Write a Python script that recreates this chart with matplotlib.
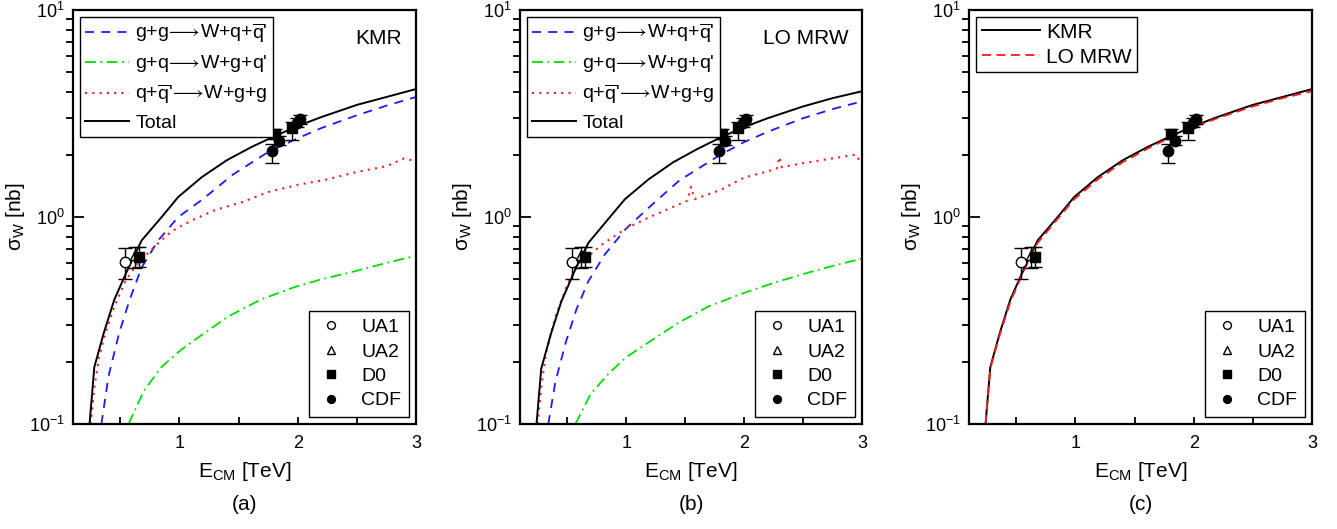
import matplotlib
matplotlib.use("Agg")
import matplotlib.pyplot as plt
from matplotlib.ticker import MultipleLocator, FuncFormatter, LogLocator
import numpy as np

plt.rcParams['font.family'] = ['Liberation Sans', 'DejaVu Sans']
plt.rcParams['mathtext.default'] = 'regular'

# --- model curves, panel (a) KMR ---
e_tot_a = [0.24, 0.28, 0.36, 0.45, 0.57, 0.68, 0.85, 0.99, 1.19, 1.40, 1.61, 1.80, 2.0, 2.2, 2.5, 2.75, 3.0]
s_tot_a = [0.10, 0.188, 0.275, 0.40, 0.57, 0.77, 1.0, 1.25, 1.56, 1.88, 2.18, 2.45, 2.75, 3.04, 3.48, 3.80, 4.15]
e_gg_a = [0.34, 0.40, 0.49, 0.58, 0.68, 0.82, 0.99, 1.19, 1.45, 1.75, 2.0, 2.2, 2.5, 2.75, 3.0]
s_gg_a = [0.10, 0.17, 0.275, 0.40, 0.57, 0.77, 1.0, 1.21, 1.60, 2.06, 2.40, 2.69, 3.10, 3.45, 3.80]
e_gq_a = [0.57, 0.70, 0.85, 1.0, 1.13, 1.41, 1.69, 1.98, 2.2, 2.5, 2.75, 3.0]
s_gq_a = [0.10, 0.145, 0.189, 0.225, 0.255, 0.33, 0.40, 0.46, 0.50, 0.55, 0.60, 0.65]
e_qq_a = [0.25, 0.28, 0.32, 0.37, 0.45, 0.55, 0.65, 0.79, 0.93, 1.1, 1.3, 1.53, 1.75, 2.0, 2.25, 2.5, 2.75, 2.9, 3.0]
s_qq_a = [0.10, 0.15, 0.21, 0.27, 0.37, 0.50, 0.60, 0.72, 0.85, 0.96, 1.08, 1.18, 1.32, 1.43, 1.52, 1.65, 1.76, 1.92, 1.86]

# --- model curves, panel (b) LO MRW ---
e_tot_b = [0.24, 0.28, 0.36, 0.45, 0.57, 0.68, 0.85, 0.99, 1.19, 1.40, 1.61, 1.80, 2.0, 2.2, 2.5, 2.75, 3.0]
s_tot_b = [0.10, 0.185, 0.27, 0.39, 0.56, 0.75, 0.98, 1.22, 1.52, 1.84, 2.14, 2.42, 2.72, 3.0, 3.42, 3.75, 4.05]
e_gg_b = [0.34, 0.40, 0.49, 0.58, 0.68, 0.82, 1.0, 1.2, 1.45, 1.8, 2.0, 2.2, 2.5, 2.75, 3.0]
s_gg_b = [0.10, 0.16, 0.25, 0.36, 0.49, 0.66, 0.88, 1.12, 1.50, 2.0, 2.30, 2.58, 3.0, 3.32, 3.62]
e_gq_b = [0.57, 0.70, 0.85, 1.0, 1.2, 1.45, 1.7, 2.0, 2.25, 2.5, 2.75, 3.0]
s_gq_b = [0.10, 0.14, 0.175, 0.21, 0.25, 0.31, 0.37, 0.43, 0.48, 0.53, 0.58, 0.63]
e_qq_b = [0.25, 0.28, 0.32, 0.40, 0.50, 0.60, 0.70, 0.80, 1.0, 1.2, 1.4, 1.52, 1.55, 1.58, 1.8, 2.0, 2.2, 2.28, 2.30, 2.32, 2.5, 2.75, 2.95, 3.0]
s_qq_b = [0.10, 0.15, 0.22, 0.33, 0.47, 0.60, 0.66, 0.74, 0.88, 1.0, 1.12, 1.20, 1.40, 1.22, 1.35, 1.55, 1.66, 1.72, 1.95, 1.74, 1.82, 1.92, 2.0, 1.78]

# --- measurements ---
ua1_e, ua1_s, ua1_lo, ua1_hi = [0.537], [0.606], [0.104], [0.102]
ua2_e, ua2_s, ua2_lo, ua2_hi = [0.62], [0.655], [0.088], [0.065]
d0_e = [0.655, 1.81, 1.95]
d0_s = [0.643, 2.52, 2.69]
d0_lo = [0.07, 0.14, 0.34]
d0_hi = [0.07, 0.14, 0.20]
cdf_e = [1.785, 1.84, 1.99, 2.02]
cdf_s = [2.09, 2.34, 2.86, 2.96]
cdf_lo = [0.27, 0.12, 0.15, 0.15]
cdf_hi = [0.15, 0.12, 0.15, 0.15]

W, H = 1337, 529
fig = plt.figure(figsize=(W / 100, H / 100), dpi=100)

def px_axes(x0, x1):
    return fig.add_axes([x0 / W, 1 - 424 / H, (x1 - x0) / W, (424 - 10) / H])

def style(ax):
    ax.set_yscale('log')
    ax.set_xlim(0.1, 3.0)
    ax.set_ylim(0.1, 10)
    ax.xaxis.set_major_locator(MultipleLocator(0.5))
    ax.xaxis.set_major_formatter(FuncFormatter(lambda v, p: '%d' % v if abs(v - round(v)) < 1e-6 and v > 0 else ''))
    ax.yaxis.set_major_locator(LogLocator(base=10))
    ax.yaxis.set_minor_locator(LogLocator(base=10, subs=np.arange(2, 10)))
    ax.yaxis.set_minor_formatter(FuncFormatter(lambda v, p: ''))
    ax.tick_params(direction='in', top=False, right=False, labelsize=13, width=1.3)
    ax.tick_params(axis='x', length=5, pad=8)
    ax.tick_params(axis='y', which='major', length=8, pad=6)
    ax.tick_params(axis='y', which='minor', length=5, width=1.3)
    for s in ax.spines.values():
        s.set_linewidth(1.6)
    ax.set_xlabel('E$_{CM}$ [TeV]', fontsize=15, labelpad=6)
    ax.set_ylabel(r'$\sigma_{W}$ [nb]', fontsize=15, labelpad=1)

def data_points(ax):
    eb = dict(fmt='none', ecolor='black', elinewidth=1, capsize=5, capthick=1)
    ax.errorbar(ua1_e, ua1_s, yerr=[ua1_lo, ua1_hi], **eb)
    ax.errorbar(ua2_e, ua2_s, yerr=[ua2_lo, ua2_hi], **eb)
    ax.errorbar(d0_e, d0_s, yerr=[d0_lo, d0_hi], **eb)
    ax.errorbar(cdf_e, cdf_s, yerr=[cdf_lo, cdf_hi], **eb)
    h1, = ax.plot(ua1_e, ua1_s, 'o', mfc='white', mec='black', ms=7.5, mew=1)
    h2, = ax.plot(ua2_e, ua2_s, '^', mfc='white', mec='black', ms=7.5, mew=1)
    h3, = ax.plot(d0_e, d0_s, 's', color='black', ms=7)
    h4, = ax.plot(cdf_e, cdf_s, 'o', color='black', ms=7.5)
    leg = ax.legend([h1, h2, h3, h4], ['UA1', 'UA2', 'D0', 'CDF'], loc='lower right',
                    fontsize=14, frameon=True, fancybox=False, edgecolor='black', framealpha=1,
                    markerscale=0.75, handlelength=1.5, handletextpad=0.8,
                    labelspacing=0.35, borderaxespad=0.35, borderpad=0.4)
    leg.get_frame().set_linewidth(1.0)
    return leg

arrow = r'$\!\longrightarrow\!$'

def subproc(ax, e_gg, s_gg, e_gq, s_gq, e_qq, s_qq, e_t, s_t, name):
    ax.plot(e_gg, s_gg, color='#1a1aff', ls=(0, (5, 4)), lw=1.3, label="g+g" + arrow + r"W+q+$\overline{q}$'")
    ax.plot(e_gq, s_gq, color='#00e000', ls=(0, (6, 2.5, 1, 2.5)), lw=1.3, label="g+q" + arrow + "W+g+q'")
    ax.plot(e_qq, s_qq, color='#ff1a1a', ls=(0, (1, 2.5)), lw=1.5, label=r"q+$\overline{q}$'" + arrow + "W+g+g")
    ax.plot(e_t, s_t, color='black', lw=1.4, label='Total')
    leg1 = ax.legend(loc='upper left', fontsize=14, fancybox=False, edgecolor='black', framealpha=1,
                     handlelength=2.3, handletextpad=0.3, labelspacing=0.42,
                     borderaxespad=0.35, borderpad=0.25)
    leg1.get_frame().set_linewidth(1.0)
    ax.add_artist(leg1)
    ax.text(0.96, 0.955, name, transform=ax.transAxes, ha='right', va='top', fontsize=15)

ax_a = px_axes(73, 416)
style(ax_a)
subproc(ax_a, e_gg_a, s_gg_a, e_gq_a, s_gq_a, e_qq_a, s_qq_a, e_tot_a, s_tot_a, 'KMR')
data_points(ax_a)

ax_b = px_axes(520, 862)
style(ax_b)
subproc(ax_b, e_gg_b, s_gg_b, e_gq_b, s_gq_b, e_qq_b, s_qq_b, e_tot_b, s_tot_b, 'LO MRW')
data_points(ax_b)

ax_c = px_axes(969, 1312)
style(ax_c)
ax_c.plot(e_tot_a, s_tot_a, color='black', lw=1.4, label='KMR')
ax_c.plot(e_tot_b, s_tot_b, color='#ff1a1a', ls=(0, (5, 3)), lw=1.3, label='LO MRW')
legc = ax_c.legend(loc='upper left', fontsize=15, fancybox=False, edgecolor='black', framealpha=1,
                   handlelength=2.8, handletextpad=0.3, labelspacing=0.3,
                   borderaxespad=0.35, borderpad=0.25)
legc.get_frame().set_linewidth(1.0)
ax_c.add_artist(legc)
data_points(ax_c)

for ax, lab in zip([ax_a, ax_b, ax_c], ['(a)', '(b)', '(c)']):
    b = ax.get_position()
    fig.text((b.x0 + b.x1) / 2, 1 - 505 / H, lab, ha='center', va='center', fontsize=15)

fig.savefig('out.png', dpi=100)
